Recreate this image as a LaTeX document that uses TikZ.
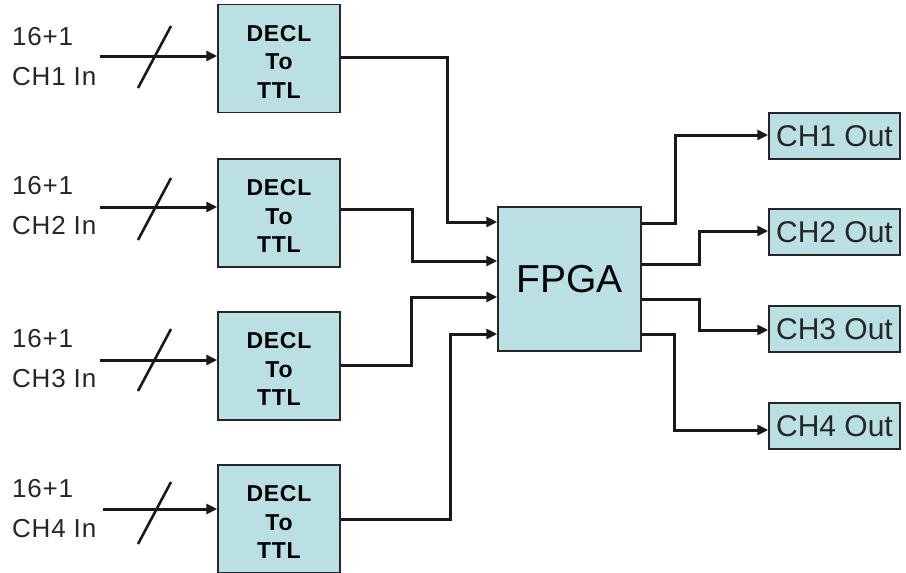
\documentclass[tikz,border=0pt]{standalone}
\usepackage{fontspec}
\setmainfont{Liberation Sans}
\newfontfamily\declfont{Liberation Sans}[LetterSpace=3]
\newfontfamily\lblfont{Liberation Sans}[LetterSpace=3]
\usetikzlibrary{arrows.meta,calc}
\definecolor{boxfill}{RGB}{187,224,227}
\begin{document}
\begin{tikzpicture}[x=1pt,y=-1pt,
  blk/.style={draw=black!85, line width=1.5pt, fill=boxfill, inner sep=0pt},
  decl/.style={blk, minimum width=122pt, minimum height=108pt,
    label={[font=\declfont\bfseries\fontsize{23}{28.5}\selectfont, align=center, inner sep=0pt, yshift=-3pt]center:{DECL\\To\\TTL}}},
  outbox/.style={blk, minimum width=131pt, minimum height=46pt, font=\fontsize{30}{36}\selectfont, text=black!85},
  conn/.style={line width=3pt, draw=black!90},
  arr/.style={conn, -{Triangle[length=11pt,width=10pt]}},
  slash/.style={line width=2.6pt, draw=black!90},
  lbl/.style={anchor=west, align=left, font=\lblfont\fontsize{26}{40}\selectfont, inner sep=0pt, text=black!85},
  ]
\useasboundingbox (0,0) rectangle (906,573);

% DECL boxes
\node[decl] (d1) at (279,58.5) {};
\node[decl] (d2) at (279,213) {};
\node[decl] (d3) at (279,366) {};
\node[decl] (d4) at (279,519) {};

% FPGA
\node[blk, minimum width=143pt, minimum height=144pt, font=\fontsize{39}{45}\selectfont] (fpga) at (569.5,279) {FPGA};

% Outputs
\node[outbox] (o1) at (834.5,136) {CH1 Out};
\node[outbox] (o2) at (834.5,232) {CH2 Out};
\node[outbox] (o3) at (834.5,329) {CH3 Out};
\node[outbox] (o4) at (834.5,426) {CH4 Out};

% Input labels
\node[lbl] (l1) at (12,57) {16+1\\CH1 In};
\node[lbl] (l2) at (12,206) {16+1\\CH2 In};
\node[lbl] (l3) at (12,358.5) {16+1\\CH3 In};
\node[lbl] (l4) at (12,509) {16+1\\CH4 In};

% Input arrows
\coordinate (i1) at (100,56);
\coordinate (i2) at (100,207);
\coordinate (i3) at (100,360);
\coordinate (i4) at (103,509);
\draw[arr] (i1) -- (d1.west |- i1);
\draw[arr] (i2) -- (d2.west |- i2);
\draw[arr] (i3) -- (d3.west |- i3);
\draw[arr] (i4) -- (d4.west |- i4);

% Bus slashes
\draw[slash] ($(i1)+(38,32)$) -- ($(i1)+(71,-30)$);
\draw[slash] ($(i2)+(38,33)$) -- ($(i2)+(71,-29)$);
\draw[slash] ($(i3)+(38,31)$) -- ($(i3)+(71,-31)$);
\draw[slash] ($(i4)+(35,35)$) -- ($(i4)+(68,-27)$);

% DECL -> FPGA
\draw[arr] (d1.east |- 0,57) -| (447,222) -- (fpga.west |- 0,222);
\draw[arr] (d2.east |- 0,209) -| (412,261) -- (fpga.west |- 0,261);
\draw[arr] (d3.east |- 0,365) -| (411,297) -- (fpga.west |- 0,297);
\draw[arr] (d4.east |- 0,519) -| (450,334) -- (fpga.west |- 0,334);

% FPGA -> outputs
\draw[arr] (fpga.east |- 0,223) -| (675,135) -- (o1.west |- 0,135);
\draw[arr] (fpga.east |- 0,264) -| (699,231) -- (o2.west |- 0,231);
\draw[arr] (fpga.east |- 0,299) -| (699,330) -- (o3.west |- 0,330);
\draw[arr] (fpga.east |- 0,334) -| (674,430) -- (o4.west |- 0,430);
\end{tikzpicture}
\end{document}
